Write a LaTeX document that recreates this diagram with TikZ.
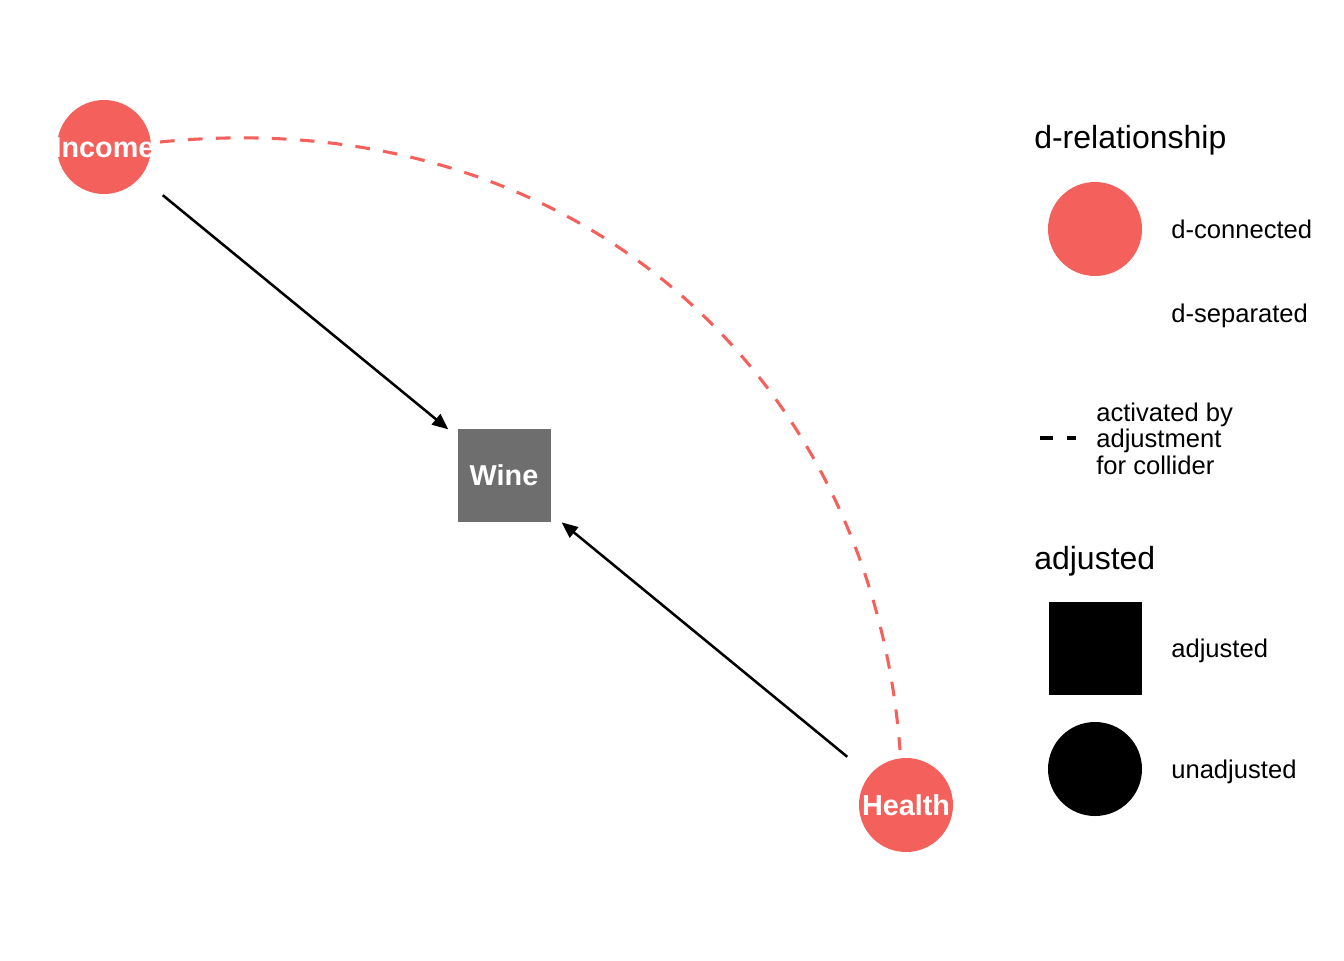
\documentclass[tikz,border=0pt]{standalone}
\usepackage{fontspec}
\setmainfont{Liberation Sans}
\usetikzlibrary{arrows.meta,calc}
\definecolor{dcon}{HTML}{F4605B}
\definecolor{wgray}{HTML}{6E6E6E}
\begin{document}
\begin{tikzpicture}[x=0.75pt,y=-0.75pt,
  dnode/.style={circle,fill=dcon,minimum size=70.5pt,inner sep=0pt},
  adjnode/.style={rectangle,fill=wgray,minimum size=69.75pt,inner sep=0pt},
  nlabel/.style={text=white,font=\fontsize{21.6}{24}\selectfont\bfseries,inner sep=0pt,anchor=base},
  edgearrow/.style={line width=1.9pt,-{Triangle[length=12pt,width=10pt]}},
  dedge/.style={dcon,line width=2.3pt,dash pattern=on 11pt off 10pt},
  ltitle/.style={font=\fontsize{24}{28}\selectfont,anchor=base west,inner sep=0pt},
  llabel/.style={font=\fontsize{19.2}{21}\selectfont,anchor=base west,inner sep=0pt},
  keysq/.style={rectangle,fill=black,minimum size=69.75pt,inner sep=0pt},
  keycirc/.style={circle,fill=black,minimum size=70.5pt,inner sep=0pt},
]
\useasboundingbox (0,0) rectangle (1344,960);

% graph nodes
\node[dnode] (inc) at (104,147) {};
\node[adjnode] (wine) at (504,475) {};
\node[dnode] (hea) at (906,805) {};

% edges
\draw[dedge] ($(inc)+(56,-5)$) .. controls ($(inc)+(471,-46.5)$) and ($(hea)+(-34,-429.5)$) .. ($(hea)+(-6,-55)$);
\draw[edgearrow] ($(inc)!57pt!(wine)$) -- ($(wine)!54pt!(inc)$);
\draw[edgearrow] ($(hea)!57pt!(wine)$) -- ($(wine)!56pt!(hea)$);

% node labels
\node[nlabel] (inclbl) at ($(inc)+(0,10)$) {Income};
\node[nlabel] (winelbl) at ($(wine)+(0,10)$) {Wine};
\node[nlabel] (healbl) at ($(hea)+(0,10)$) {Health};

% legend: d-relationship
\node[ltitle] (t1) at (1034,148) {d-relationship};
\node[dnode] (kcon) at (1095,229) {};
\node[llabel] (lcon) at (1171,238) {d-connected};
\node[llabel] (lsep) at (1171,322) {d-separated};
\coordinate (da) at (1040,438);
\coordinate (db) at (1076,438);
\draw[line width=2.3pt,dash pattern=on 9.75pt off 10.5pt] (da) -- (db);
\node[llabel] (lact1) at (1096,421) {activated by};
\node[llabel] (lact2) at (1096,447.5) {adjustment};
\node[llabel] (lact3) at (1096,474) {for collider};

% legend: adjusted
\node[ltitle] (t2) at (1034,569) {adjusted};
\node[keysq] (kadj) at (1095,648) {};
\node[llabel] (ladj) at (1171,657) {adjusted};
\node[keycirc] (kun) at (1095,769) {};
\node[llabel] (lun) at (1171,778) {unadjusted};
\end{tikzpicture}
\end{document}
